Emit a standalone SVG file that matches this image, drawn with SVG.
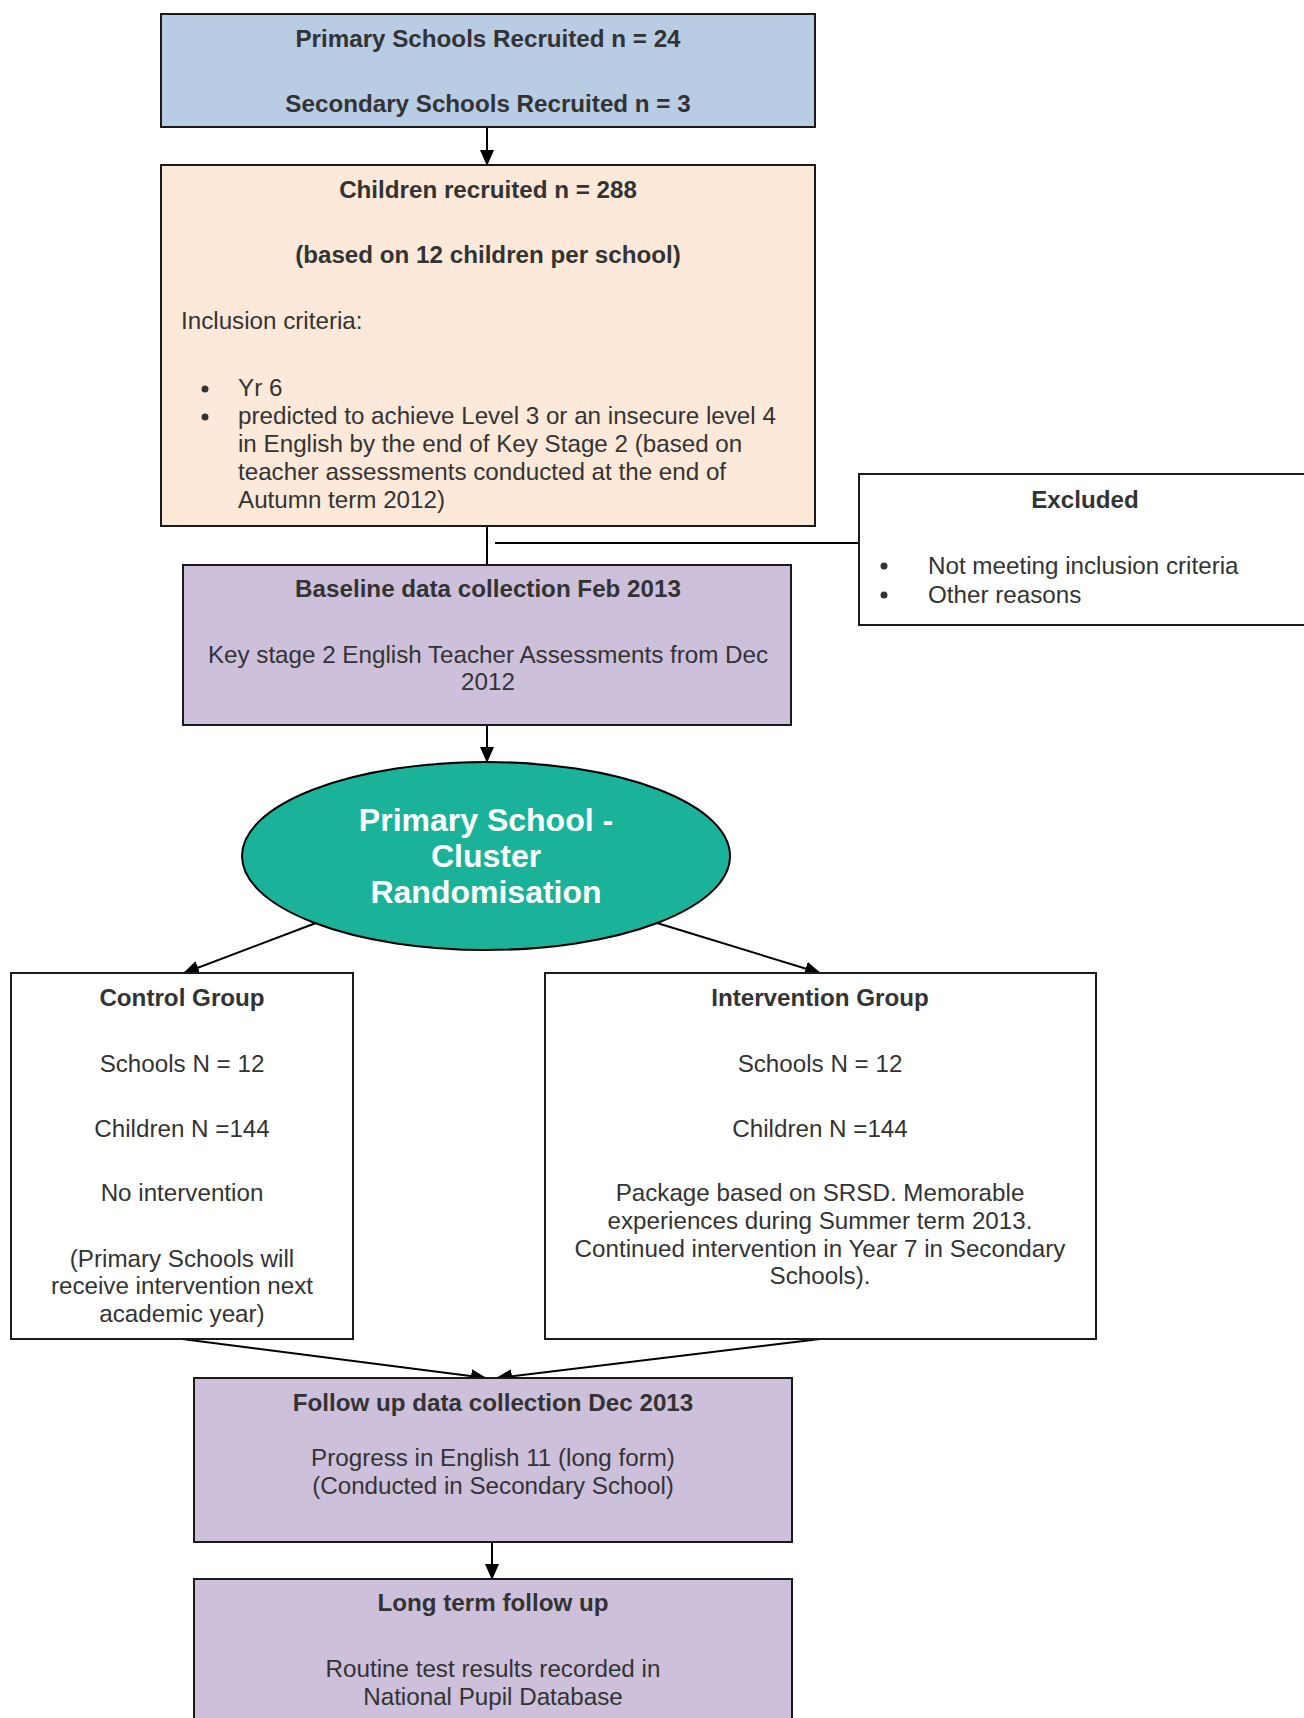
<svg xmlns="http://www.w3.org/2000/svg" width="1304" height="1718" viewBox="0 0 1304 1718">
<defs>
<marker id="ah" markerWidth="16" markerHeight="14" refX="15" refY="7" orient="auto" markerUnits="userSpaceOnUse"><path d="M0,0 L16,7 L0,14 z" fill="#000"/></marker>
<style>
.box{stroke:#1a1a1a;stroke-width:2}
.t{font-family:"Liberation Sans",Arial,sans-serif;font-size:24.2px;fill:#333}
.b{font-weight:bold}
.c{text-anchor:middle}
.w{font-family:"Liberation Sans",Arial,sans-serif;font-size:32px;font-weight:bold;fill:#fff;text-anchor:middle}
.ln{stroke:#000;stroke-width:2;fill:none}
</style>
</defs>
<rect width="1304" height="1718" fill="#fff"/>
<g id="connectors">
<line class="ln" x1="487" y1="127" x2="487" y2="165" marker-end="url(#ah)"/>
<line class="ln" x1="487" y1="526" x2="487" y2="565"/>
<line class="ln" x1="495" y1="543" x2="859" y2="543"/>
<line class="ln" x1="487" y1="725" x2="487" y2="762" marker-end="url(#ah)"/>
<line class="ln" x1="316" y1="923" x2="184" y2="973" marker-end="url(#ah)"/>
<line class="ln" x1="657" y1="923" x2="820" y2="973" marker-end="url(#ah)"/>
<line class="ln" x1="182" y1="1339" x2="486" y2="1378" marker-end="url(#ah)"/>
<line class="ln" x1="820" y1="1339" x2="497" y2="1378" marker-end="url(#ah)"/>
<line class="ln" x1="492" y1="1542" x2="492" y2="1579" marker-end="url(#ah)"/>
</g>
<g id="recruited-schools">
<rect class="box" x="161" y="14" width="654" height="113" fill="#b8cce4"/>
<text class="t b c" x="488" y="47">Primary Schools Recruited n = 24</text>
<text class="t b c" x="488" y="112">Secondary Schools Recruited n = 3</text>
</g>
<g id="children-recruited">
<rect class="box" x="161" y="165" width="654" height="361" fill="#fde9d9"/>
<text class="t b c" x="488" y="198">Children recruited n = 288</text>
<text class="t b c" x="488" y="263">(based on 12 children per school)</text>
<text class="t" x="181" y="329">Inclusion criteria:</text>
<circle cx="205" cy="389" r="3.5" fill="#333"/>
<text class="t" x="238" y="396">Yr 6</text>
<circle cx="205" cy="417" r="3.5" fill="#333"/>
<text class="t" x="238" y="424">predicted to achieve Level 3 or an insecure level 4</text>
<text class="t" x="238" y="452">in English by the end of Key Stage 2 (based on</text>
<text class="t" x="238" y="480">teacher assessments conducted at the end of</text>
<text class="t" x="238" y="508">Autumn term 2012)</text>
</g>
<g id="excluded">
<rect class="box" x="859" y="474" width="450" height="151" fill="#fff"/>
<text class="t b c" x="1085" y="508">Excluded</text>
<circle cx="884" cy="566" r="3.5" fill="#333"/>
<text class="t" x="928" y="574">Not meeting inclusion criteria</text>
<circle cx="884" cy="595" r="3.5" fill="#333"/>
<text class="t" x="928" y="603">Other reasons</text>
</g>
<g id="baseline">
<rect class="box" x="183" y="565" width="608" height="160" fill="#ccc0da"/>
<text class="t b c" x="488" y="597">Baseline data collection Feb 2013</text>
<text class="t c" x="488" y="663">Key stage 2 English Teacher Assessments from Dec</text>
<text class="t c" x="488" y="690">2012</text>
</g>
<g id="randomisation">
<ellipse cx="486" cy="856" rx="244" ry="94" fill="#1bb29a" stroke="#000" stroke-width="2"/>
<text class="w" x="486" y="831">Primary School -</text>
<text class="w" x="486" y="867">Cluster</text>
<text class="w" x="486" y="903">Randomisation</text>
</g>
<g id="control">
<rect class="box" x="11" y="973" width="342" height="366" fill="#fff"/>
<text class="t b c" x="182" y="1006">Control Group</text>
<text class="t c" x="182" y="1072">Schools N = 12</text>
<text class="t c" x="182" y="1137">Children N =144</text>
<text class="t c" x="182" y="1201">No intervention</text>
<text class="t c" x="182" y="1267">(Primary Schools will</text>
<text class="t c" x="182" y="1294">receive intervention next</text>
<text class="t c" x="182" y="1322">academic year)</text>
</g>
<g id="intervention">
<rect class="box" x="545" y="973" width="551" height="366" fill="#fff"/>
<text class="t b c" x="820" y="1006">Intervention Group</text>
<text class="t c" x="820" y="1072">Schools N = 12</text>
<text class="t c" x="820" y="1137">Children N =144</text>
<text class="t c" x="820" y="1201">Package based on SRSD. Memorable</text>
<text class="t c" x="820" y="1229">experiences during Summer term 2013.</text>
<text class="t c" x="820" y="1257">Continued intervention in Year 7 in Secondary</text>
<text class="t c" x="820" y="1284">Schools).</text>
</g>
<g id="follow-up">
<rect class="box" x="194" y="1378" width="598" height="164" fill="#ccc0da"/>
<text class="t b c" x="493" y="1411">Follow up data collection Dec 2013</text>
<text class="t c" x="493" y="1466">Progress in English 11 (long form)</text>
<text class="t c" x="493" y="1494">(Conducted in Secondary School)</text>
</g>
<g id="long-term">
<rect class="box" x="194" y="1579" width="598" height="160" fill="#ccc0da"/>
<text class="t b c" x="493" y="1611">Long term follow up</text>
<text class="t c" x="493" y="1677">Routine test results recorded in</text>
<text class="t c" x="493" y="1705">National Pupil Database</text>
</g>
</svg>
